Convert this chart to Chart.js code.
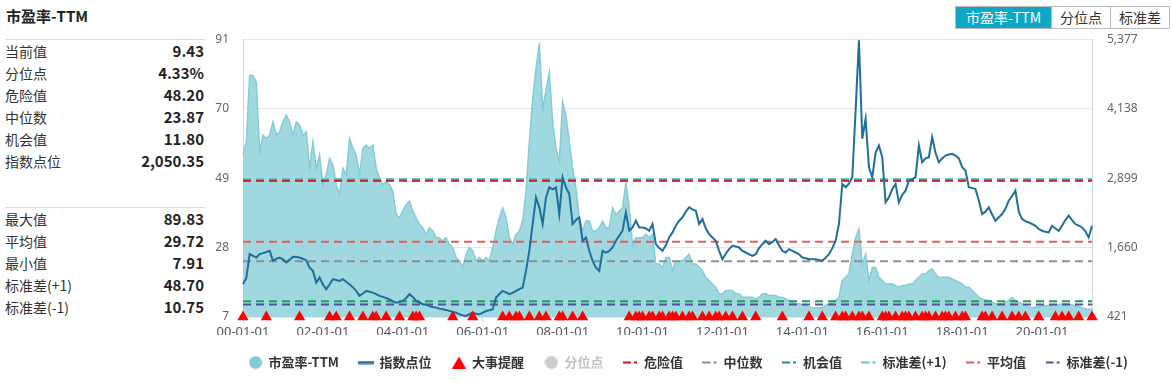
<!DOCTYPE html>
<html>
<head>
<meta charset="utf-8">
<script src="https://cdn.jsdelivr.net/npm/chart.js@4.4.1/dist/chart.umd.min.js"></script>
<style>
  body { margin: 0; width: 1172px; height: 383px; overflow: hidden; background: #fff; position: relative;
         font-family: "Noto Sans CJK SC", "Noto Sans", sans-serif; color: #333; }
  #title { position: absolute; left: 6px; top: 5px; font-size: 15px; font-weight: bold; color: #222; }
  .sep { position: absolute; left: 5px; width: 200px; height: 1px; background: #dcdcdc; }
  .row { position: absolute; left: 5px; width: 199px; height: 22px; line-height: 22px; font-size: 14px; }
  .row .v { position: absolute; right: 0; top: 0; font-weight: bold; font-size: 15px; color: #222; }
  #btns { position: absolute; left: 955px; top: 6px; height: 23px; display: flex; border: 1px solid #bbb; box-sizing: border-box; }
  #btns div { height: 21px; line-height: 21px; font-size: 14px; text-align: center; color: #333; }
  #btns .on { background: #0ea8c6; color: #fff; width: 95px; }
  #btns .b { border-left: 1px solid #bbb; width: 58px; }
  #wrap { position: absolute; left: 205px; top: 17px; width: 967px; height: 366px; }
</style>
</head>
<body>
<div id="title">市盈率-TTM</div>
<div class="sep" style="top:39px"></div>
<div id="stats1"></div>
<div class="sep" style="top:207px"></div>
<div id="stats2"></div>
<div id="btns"><div class="on">市盈率-TTM</div><div class="b">分位点</div><div class="b">标准差</div></div>
<div id="wrap"><canvas id="grafico"></canvas></div>
<script>
// Datos (mensual, 2000-01 .. 2021-04)
const inicio = 2000;

const peTTM = [
  56, 60, 80, 80, 78, 57, 62, 61, 62, 66, 62, 63,          // 2000
  66, 68, 66, 62, 66, 65, 62, 63, 52, 60, 52, 56,          // 2001
  47, 50, 55, 53, 47, 44, 52, 50, 61, 58, 56, 50,          // 2002
  58, 59, 58, 59, 52, 49, 47, 48, 47, 45, 38, 37,          // 2003
  39, 41, 42, 39, 37, 35, 34, 32, 34, 33, 31, 31,          // 2004
  30, 31, 29, 28, 25, 24, 22, 26, 28, 27, 24, 25,          // 2005
  24, 25, 24, 28, 33, 37, 40, 37, 31, 29, 32, 33,          // 2006
  36, 45, 60, 73, 82, 89.8, 70, 75.5, 81, 66, 58, 54,      // 2007
  72, 68, 60, 52, 46, 37, 33, 36, 36, 33, 33, 34,          // 2008
  36, 34, 34, 40, 38, 39, 40, 47.7, 40, 29, 31, 31,        // 2009
  31, 32, 31, 32, 23, 23, 22, 25, 25, 21, 24, 24,          // 2010
  24, 25, 26, 23, 23, 22, 21, 19, 18, 17, 16, 14,          // 2011
  14, 15, 15, 15, 14, 14, 13, 13, 13, 13, 12.4, 13,        // 2012
  14, 14, 13.5, 13.5, 13.5, 13, 13, 12.5, 12, 11.5, 11, 11, // 2013
  10.8, 10.5, 10, 9.8, 9.8, 9.8, 9.8, 10.5, 11, 11.5, 12, 13, // 2014
  18, 19, 20, 26, 31, 33.6, 23, 26, 18, 22, 22, 19,        // 2015
  18, 17, 17, 17, 16.5, 16, 16.5, 16.5, 17, 17, 18, 19,    // 2016
  20, 20, 21, 21.5, 20, 19, 19, 19, 19, 18.5, 18, 17.5,    // 2017
  17, 16, 16, 15, 14, 13, 12.4, 12.2, 12, 11.5, 11, 11,    // 2018
  11, 11.5, 12, 12.9, 12, 11.5, 11, 10.5, 10, 9.8, 10, 10.2, // 2019
  10.3, 10.4, 10.5, 10.5, 10.7, 10.8, 10.9, 11, 11, 10.6, 10.4, 10.2, // 2020
  9.8, 9.5, 9.3, 9.43                                      // 2021
];

const indicePuntos = [
  1006, 1124, 1542, 1510, 1482, 1542, 1560, 1580, 1602, 1423, 1460, 1482, // 2000
  1450, 1393, 1440, 1494, 1490, 1482, 1460, 1435, 1300, 1244, 1035, 1124, // 2001
  1000, 917, 1000, 1095, 1080, 1065, 1095, 1050, 1006, 950, 886, 797,     // 2002
  840, 886, 870, 856, 830, 797, 780, 760, 737, 700, 677, 690,             // 2003
  707, 760, 827, 780, 707, 680, 648, 640, 618, 600, 588, 570,             // 2004
  560, 546, 530, 510, 498, 470, 450, 439, 470, 498, 480, 469,             // 2005
  500, 528, 540, 558, 767, 830, 886, 860, 827, 850, 886, 920,             // 2006
  946, 1244, 1602, 2079, 2555, 2377, 2079, 2555, 2735, 2700, 2735, 2258,  // 2007
  2913, 2735, 2616, 2079, 2150, 2198, 1781, 1840, 1602, 1423, 1300, 1244, // 2008
  1602, 1570, 1600, 1661, 1781, 1870, 1960, 2287, 1960, 2019, 2138, 2019, // 2009
  2019, 2000, 1960, 2079, 1721, 1650, 1602, 1700, 1840, 1930, 2050, 2138, // 2010
  2198, 2300, 2377, 2340, 2317, 2079, 2168, 2000, 1900, 1840, 1781, 1602, // 2011
  1453, 1550, 1632, 1691, 1680, 1661, 1600, 1572, 1540, 1512, 1542, 1650, // 2012
  1720, 1781, 1721, 1760, 1810, 1700, 1600, 1572, 1632, 1600, 1572, 1540, // 2013
  1482, 1470, 1453, 1450, 1453, 1440, 1423, 1480, 1542, 1650, 1781, 2079, // 2014
  2795, 2735, 2800, 2913, 4106, 5358, 3600, 3957, 3093, 2913, 3350, 3480, // 2015
  3271, 2466, 2555, 2700, 2795, 2466, 2600, 2675, 2854, 2880, 2913, 3480, // 2016
  3182, 3250, 3271, 3629, 3350, 3182, 3250, 3301, 3320, 3331, 3301, 3250, // 2017
  3093, 3033, 2735, 2720, 2705, 2500, 2258, 2300, 2377, 2250, 2138, 2200, // 2018
  2258, 2350, 2496, 2580, 2675, 2300, 2168, 2130, 2108, 2080, 2049, 1990, // 2019
  1960, 1940, 1930, 2049, 2000, 1960, 2050, 2150, 2228, 2150, 2079, 2050, // 2020
  2019, 1950, 1840, 2050                                                  // 2021
];

// Fechas de los triangulos (YY-MM)
const eventos = [
  '00-01', '00-08', '01-06', '02-03', '02-05', '02-09', '03-01', '03-04', '03-05', '03-08', '03-12',
  '04-04', '04-05', '04-06', '05-04', '05-10', '06-07', '06-09', '06-11', '06-12', '07-03', '07-06',
  '07-08', '07-12', '08-01', '08-04', '08-07', '09-09', '09-11', '09-12', '10-01', '10-03', '10-04',
  '10-06', '10-07', '10-09', '10-10', '10-11', '11-01', '11-03', '11-04', '11-07', '11-09', '11-11',
  '11-12', '12-02', '12-04', '12-07', '12-11', '13-07', '14-03', '14-07', '14-11', '15-01', '15-02',
  '15-04', '15-06', '15-07', '15-09', '16-01', '16-02', '16-03', '16-05', '16-07', '16-08', '16-09',
  '16-11', '17-01', '17-02', '17-03', '17-05', '17-07', '17-08', '17-09', '17-11', '18-01', '18-02',
  '18-07', '18-08', '18-10', '19-01', '19-04', '19-06', '19-08', '19-12', '20-05', '20-07', '20-09',
  '20-12', '21-04'
];

const ticksX = ['00-01-01', '02-01-01', '04-01-01', '06-01-01', '08-01-01', '10-01-01',
                '12-01-01', '14-01-01', '16-01-01', '18-01-01', '20-01-01'];
const ticksIzq = [7, 28, 49, 70, 91];
const ticksDer = [421, 1660, 2899, 4138, 5377];

const lineasNombres = ['危险值', '中位数', '机会值', '标准差(+1)', '平均值', '标准差(-1)'];
const lineasValores = [48.20, 23.87, 11.80, 48.70, 29.72, 10.75];
const lineasColores = ['#c8161d', '#8a9099', '#1f9d57', '#62c2c4', '#e35f5f', '#4b5799'];

const stats1Nombres = ['当前值', '分位点', '危险值', '中位数', '机会值', '指数点位'];
const stats1Valores = ['9.43', '4.33%', '48.20', '23.87', '11.80', '2,050.35'];
const stats2Nombres = ['最大值', '平均值', '最小值', '标准差(+1)', '标准差(-1)'];
const stats2Valores = ['89.83', '29.72', '7.91', '48.70', '10.75'];

// Panel izquierdo
function llenarStats(id, nombres, valores, top) {
  const cont = document.getElementById(id);
  nombres.forEach((n, i) => {
    const d = document.createElement('div');
    d.className = 'row';
    d.style.top = (top + i * 22) + 'px';
    d.innerHTML = `${n}<span class="v">${valores[i]}</span>`;
    cont.appendChild(d);
  });
}
llenarStats('stats1', stats1Nombres, stats1Valores, 40);
llenarStats('stats2', stats2Nombres, stats2Valores, 208);

// Etiquetas mensuales
const etiquetas = peTTM.map((_, i) => {
  const y = String((inicio + Math.floor(i / 12)) % 100).padStart(2, '0');
  const m = String(i % 12 + 1).padStart(2, '0');
  return `${y}-${m}-01`;
});
const primero = etiquetas[0];
const ultimo = etiquetas[etiquetas.length - 1];

// Iconos de la leyenda
function icono(w, h, dibujar) {
  const c = document.createElement('canvas');
  c.width = w; c.height = h;
  dibujar(c.getContext('2d'));
  return c;
}
const iconoCirculo = color => icono(14, 14, g => { g.fillStyle = color; g.beginPath(); g.arc(7, 7, 6.5, 0, Math.PI * 2); g.fill(); });
const iconoLinea = color => icono(16, 4, g => { g.fillStyle = color; g.fillRect(0, 0.5, 16, 3); });
const iconoTrazo = color => icono(16, 4, g => { g.fillStyle = color; g.fillRect(0, 1, 8, 2); g.fillRect(11, 1, 3, 2); });
const iconoTriangulo = icono(14, 12, g => { g.fillStyle = '#ff0000'; g.beginPath(); g.moveTo(7, 0); g.lineTo(14, 12); g.lineTo(0, 12); g.closePath(); g.fill(); });

const datasets = [
  {
    label: '市盈率-TTM', data: peTTM, yAxisID: 'y', order: 5,
    borderColor: '#86ccd6', borderWidth: 1.5, backgroundColor: 'rgba(150,212,221,0.9)',
    fill: 'start', pointRadius: 0, icon: iconoCirculo('#84ccd5')
  },
  {
    label: '指数点位', data: indicePuntos, yAxisID: 'y1', order: 1,
    borderColor: '#1f6e9c', borderWidth: 2, fill: false, pointRadius: 0, icon: iconoLinea('#1f6e9c')
  },
  {
    label: '大事提醒', data: eventos.map(e => ({ x: e + '-01', y: 7 })), yAxisID: 'y', order: 0,
    showLine: false, pointStyle: 'triangle', pointRadius: 6.5, pointBackgroundColor: '#ff0000',
    pointBorderWidth: 0, clip: false, icon: iconoTriangulo
  },
  { label: '分位点', data: [], yAxisID: 'y', order: 4, icon: iconoCirculo('#cccccc'), gris: true }
];
lineasNombres.forEach((n, i) => {
  datasets.push({
    label: n, data: [{ x: primero, y: lineasValores[i] }, { x: ultimo, y: lineasValores[i] }],
    yAxisID: 'y', order: 2, borderColor: lineasColores[i], borderWidth: 2, borderDash: [8, 5],
    pointRadius: 0, fill: false, icon: iconoTrazo(lineasColores[i])
  });
});

const fuenteTick = { family: 'Noto Sans', size: 12 };

const ctx = document.getElementById('grafico').getContext('2d');
const grafico = new Chart(ctx, {
  type: 'line',
  data: { labels: etiquetas, datasets },
  options: {
    responsive: true,
    maintainAspectRatio: false,
    animation: false,
    layout: { padding: { top: 8, bottom: 4, left: 0, right: 0 } },
    plugins: {
      tooltip: { enabled: false },
      legend: {
        position: 'bottom',
        labels: {
          usePointStyle: true,
          padding: 21,
          font: { family: 'Noto Sans CJK SC', size: 13, weight: 'bold' },
          generateLabels: chart => chart.data.datasets.map((ds, i) => ({
            text: ds.label,
            pointStyle: ds.icon,
            fillStyle: 'transparent',
            strokeStyle: 'transparent',
            lineWidth: 0,
            hidden: false,
            fontColor: ds.gris ? '#c4c4c4' : '#333',
            datasetIndex: i
          }))
        }
      }
    },
    scales: {
      x: {
        type: 'category',
        offset: false,
        afterFit: s => { s.height = 18; },
        grid: { display: true, drawOnChartArea: false, drawTicks: true, tickLength: 5, color: '#ccd6e0' },
        border: { display: false },
        ticks: {
          autoSkip: false, maxRotation: 0, padding: 2, color: '#555',
          font: { family: 'Noto Sans', size: 13 },
          callback: function (v, i) {
            const l = etiquetas[i];
            return ticksX.includes(l) ? l : null;
          }
        }
      },
      y: {
        position: 'left', min: 7, max: 91,
        afterFit: s => { s.width = 38; },
        afterBuildTicks: s => { s.ticks = ticksIzq.map(v => ({ value: v })); },
        grid: { color: '#e6e6e6', drawTicks: false },
        border: { display: true, color: '#ccd6e0' },
        ticks: { padding: 14, color: '#666', font: fuenteTick }
      },
      y1: {
        position: 'right', min: 421, max: 5377,
        afterFit: s => { s.width = 80; },
        afterBuildTicks: s => { s.ticks = ticksDer.map(v => ({ value: v })); },
        grid: { drawOnChartArea: false, drawTicks: false },
        border: { display: true, color: '#ccd6e0' },
        ticks: { padding: 15, color: '#666', font: fuenteTick, callback: v => v.toLocaleString('en-US') }
      }
    }
  }
});
</script>
</body>
</html>
